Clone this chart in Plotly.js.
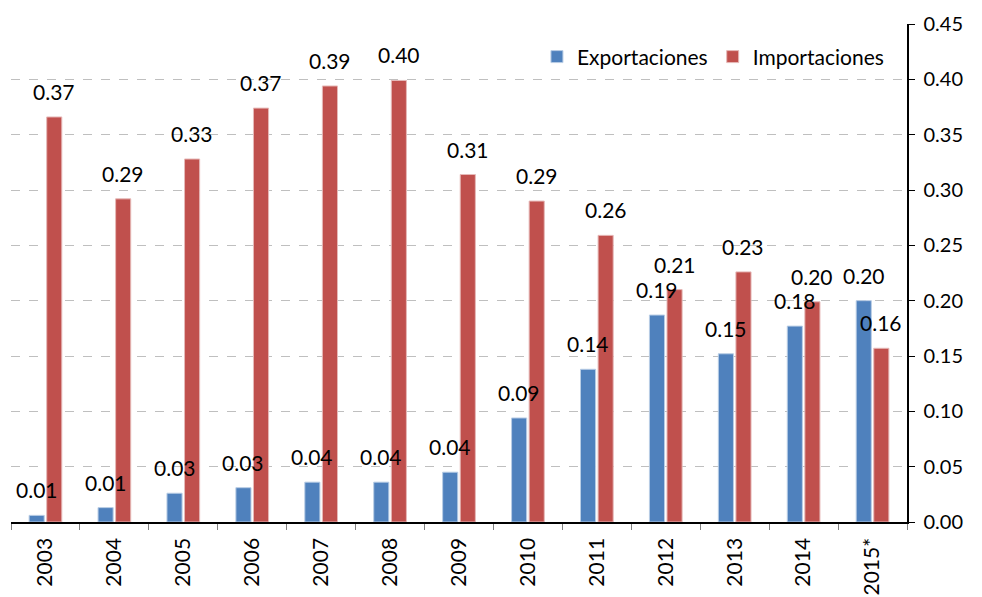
<!DOCTYPE html>
<html>
<head>
<meta charset="utf-8">
<script src="https://cdn.plot.ly/plotly-3.0.1.min.js"></script>
<style>html,body{margin:0;padding:0;background:#fff;}#chart{width:982px;height:597px;}</style>
</head>
<body>
<div id="chart"></div>
<script>
const years = ["2003","2004","2005","2006","2007","2008","2009","2010","2011","2012","2013","2014","2015*"];
const exportaciones = [0.006,0.013,0.026,0.031,0.036,0.036,0.045,0.094,0.138,0.187,0.152,0.177,0.200];
const importaciones = [0.366,0.292,0.328,0.374,0.394,0.399,0.314,0.290,0.259,0.210,0.226,0.199,0.157];
const yTicks = [0,0.05,0.10,0.15,0.20,0.25,0.30,0.35,0.40,0.45];

const FONT = "Lato, 'Noto Sans', sans-serif";
const data = [
  {type: "bar", name: "Exportaciones", x: years.slice(), y: exportaciones, hoverinfo: "skip",
    marker: {color: "#4F81BD", line: {color: "#B9CDE5", width: 1}}},
  {type: "bar", name: "Importaciones", x: years.slice(), y: importaciones, hoverinfo: "skip",
    marker: {color: "#C0504D", line: {color: "#E6B9B8", width: 1}}}
];

// value labels (drawn on top of all bars, like the original); x = category index
const annotations = [];
function addLabels(vals, shift) {
  vals.forEach((v, i) => {
    annotations.push({
      x: i, y: v, xref: "x", yref: "y",
      text: v.toFixed(2), showarrow: false,
      xanchor: "center", yanchor: "bottom",
      xshift: shift, yshift: 11,
      font: {family: FONT, size: 21, color: "#000"}
    });
  });
}
addLabels(exportaciones, -8.8);
addLabels(importaciones, 8.8);

const layout = {
  width: 982, height: 597,
  margin: {l: 11, r: 75, t: 24, b: 75},
  paper_bgcolor: "#fff", plot_bgcolor: "#fff",
  font: {family: FONT, size: 20, color: "#000"},
  barmode: "group",
  bargap: 0.49,
  bargroupgap: 0.14,
  showlegend: true,
  legend: {orientation: "h", x: 0.587, y: 0.975, xanchor: "left", yanchor: "top",
    font: {family: FONT, size: 21, color: "#000"}, bgcolor: "rgba(0,0,0,0)",
    traceorder: "normal", itemwidth: 30},
  annotations: annotations,
  xaxis: {
    type: "category", range: [-0.5, years.length - 0.5], autorange: false,
    tickangle: -90, tickson: "boundaries", ticklabelstandoff: 6,
    ticks: "outside", ticklen: 6, tickcolor: "#808080",
    showline: true, linecolor: "#000", linewidth: 1.5,
    showgrid: false, zeroline: false,
    tickfont: {family: FONT, size: 21, color: "#000"}
  },
  yaxis: {
    side: "right", range: [0, 0.45], autorange: false, tickvals: yTicks, tickformat: ".2f",
    ticks: "outside", ticklen: 6, tickcolor: "#000", ticklabelstandoff: 5,
    showline: true, linecolor: "#000", linewidth: 1.5,
    showgrid: true, gridcolor: "#BFBFBF", griddash: "dash", gridwidth: 1,
    zeroline: false,
    tickfont: {family: FONT, size: 20, color: "#000"}
  }
};
Plotly.newPlot("chart", data, layout, {displayModeBar: false, staticPlot: true});
</script>
</body>
</html>
